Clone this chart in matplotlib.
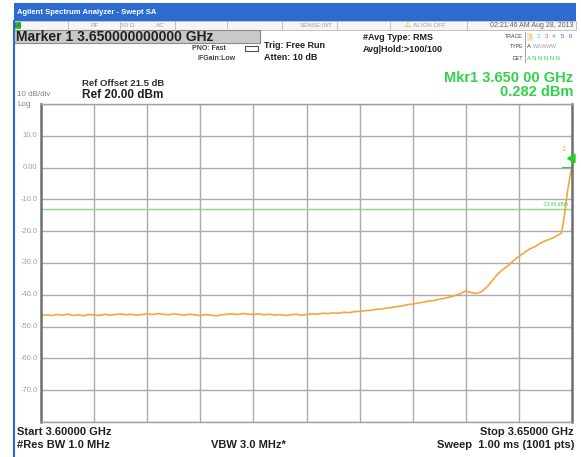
import numpy as np
import matplotlib.pyplot as plt
from matplotlib.patches import Rectangle
from matplotlib.lines import Line2D

plt.rcParams['font.family'] = ['Liberation Sans', 'DejaVu Sans']

W, H = 581, 457

# --- sweep settings / readouts ---
start_ghz = 3.600
stop_ghz = 3.650
ref_dbm = 20.0
db_per_div = 10
n_div = 10
display_line_dbm = -13.0
mkr_ghz = 3.650
mkr_dbm = 0.282

ytick_vals = [10, 0, -10, -20, -30, -40, -50, -60, -70]
ytick_labels = ['10.0', '0.00', '-10.0', '-20.0', '-30.0', '-40.0',
                '-50.0', '-60.0', '-70.0']

# trace: offset from start (MHz) and level (dBm)
trace_mhz = list(np.arange(0, 49.01, 0.5)) + [49.2, 49.4, 49.6, 49.8, 50.0]
trace_dbm = [
    -46.6, -46.3, -46.5, -46.2, -46.4, -46.1, -46.5, -46.3, -46.6, -46.2,
    -46.3, -46.5, -46.1, -46.4, -46.2, -46.0, -46.3, -46.1, -46.4, -46.2,
    -46.0, -46.2, -45.9, -46.1, -46.3, -46.0, -46.2, -46.4, -46.1, -46.3,
    -46.5, -46.2, -46.4, -46.6, -46.3, -46.1, -46.0, -46.2, -45.9, -46.1,
    -46.2, -46.0, -46.3, -46.1, -46.4, -46.2, -46.5, -46.3, -46.1, -46.4,
    -46.2, -46.0, -46.1, -45.8, -45.9, -45.7, -45.8, -45.5, -45.6, -45.3,
    -45.2, -45.0, -44.9, -44.6, -44.5, -44.2, -44.0, -43.7, -43.5, -43.1,
    -42.9, -42.6, -42.3, -42.0, -41.8, -41.4, -41.1, -40.7, -40.2, -39.6,
    -38.8, -39.3, -39.6, -39.0, -37.5, -35.5, -33.5, -32.0, -30.8, -29.3,
    -27.9, -26.8, -25.6, -24.9, -23.8, -23.0, -22.4, -21.6, -20.6,
    -17.0, -12.0, -7.0, -3.0, 0.282,
]

trace_color = '#F2A93B'
green = '#2FD24A'
blue = '#2E6BD0'


def fx(x):
    return x / W


def fy(y):
    return 1 - y / H


def txt(x, y, s, **kw):
    kw.setdefault('va', 'center')
    fig.text(fx(x), fy(y), s, **kw)


def box(x0, y0, x1, y1, **kw):
    fig.add_artist(Rectangle((fx(x0), fy(y1)), fx(x1) - fx(x0), (y1 - y0) / H,
                             transform=fig.transFigure, **kw))


fig = plt.figure(figsize=(W / 100, H / 100), dpi=100)
fig.patch.set_facecolor('white')

# title bar and status row
box(14, 3, 576, 21, facecolor=blue, edgecolor='none')
txt(17, 12, 'Agilent Spectrum Analyzer - Swept SA', color='white',
    fontsize=5.5, fontweight='bold')
box(14, 21, 576, 30, facecolor='#F6F6F6', edgecolor='#B8B8B8', lw=0.6)
for xd in [68, 120, 175, 227, 282, 337, 390, 467]:
    fig.add_artist(Line2D([fx(xd), fx(xd)], [fy(21), fy(30)],
                          color='#B8B8B8', lw=0.6))
box(14, 22, 21, 29, facecolor='#39C43A', edgecolor='none')
txt(14.5, 25.5, 'LXI', fontsize=3.5, color='#204020')
txt(95, 25.5, 'RF', fontsize=4.5, color='#A0A0A0', ha='center')
txt(128, 25.5, '50 Ω', fontsize=4.5, color='#A0A0A0', ha='center')
txt(160, 25.5, 'AC', fontsize=4.5, color='#A0A0A0', ha='center')
txt(316, 25.5, 'SENSE:INT', fontsize=4.5, color='#A0A0A0', ha='center')
txt(407, 25, '⚠', fontsize=6, color='#D8B400', ha='center')
txt(413, 25.5, 'ALIGN OFF', fontsize=4.5, color='#A0A0A0')
txt(574, 25.5, '02:21:46 AM Aug 28, 2013', fontsize=5, color='#606060',
    ha='right')

# left blue frame line
fig.add_artist(Line2D([fx(14), fx(14)], [fy(21), fy(457)], color=blue, lw=1.5))

# marker box
box(14, 30, 260, 43, facecolor='#C9C9C9', edgecolor='#8A8A8A', lw=0.8)
txt(16, 37, 'Marker 1 3.650000000000 GHz', fontsize=10, fontweight='bold',
    color='#202020')

txt(226, 49, 'PNO: Fast', fontsize=5, fontweight='bold', color='#404040',
    ha='right')
txt(236, 59, 'IFGain:Low', fontsize=5, fontweight='bold', color='#404040',
    ha='right')
box(245, 46, 258, 51, facecolor='white', edgecolor='#505050', lw=0.8)
txt(264, 46, 'Trig: Free Run', fontsize=6.5, fontweight='bold',
    color='#202020')
txt(264, 58, 'Atten: 10 dB', fontsize=6.5, fontweight='bold', color='#202020')
txt(363, 38, '#Avg Type: RMS', fontsize=6.5, fontweight='bold',
    color='#202020')
txt(363, 49, 'Avg|Hold:>100/100', fontsize=6.5, fontweight='bold',
    color='#202020')

# trace / type / det block
txt(523, 37, 'TRACE', fontsize=3.8, color='#404040', ha='right')
txt(523, 47, 'TYPE', fontsize=3.8, color='#404040', ha='right')
txt(523, 58, 'DET', fontsize=3.8, color='#404040', ha='right')
fig.add_artist(Line2D([fx(525), fx(525)], [fy(32), fy(62)], color='#909090',
                      lw=0.6))
for i, c in enumerate(['#F2C060', '#40C8E0', '#E040C0', '#40C040',
                       '#4060E0', '#8040E0']):
    box(527 + i * 8, 33, 533 + i * 8, 41,
        facecolor='#F6E7B8' if i == 0 else 'none', edgecolor='none')
    txt(530 + i * 8, 37, str(i + 1), fontsize=4.2, color=c, ha='center')
txt(527, 47, 'A', fontsize=4.2, color='#404040')
txt(533, 47, 'WWWWW', fontsize=3.6, color='#A0A0A0')
txt(527, 58, 'A N N N N N', fontsize=4.2, color=green)

# reference / marker readouts
txt(17, 95, '10 dB/div', fontsize=5.8, color='#808080')
txt(17, 104, 'Log', fontsize=5.8, color='#808080')
txt(82, 84, 'Ref Offset 21.5 dB', fontsize=6.8, fontweight='bold',
    color='#303030')
txt(82, 95, 'Ref 20.00 dBm', fontsize=8.5, fontweight='bold',
    color='#202020')
txt(573, 78, 'Mkr1 3.650 00 GHz', fontsize=10.5, fontweight='bold',
    color=green, ha='right')
txt(573, 92, '0.282 dBm', fontsize=10.5, fontweight='bold', color=green,
    ha='right')

# graticule
ax_l, ax_r, ax_t, ax_b = 41, 572, 104, 422
ax = fig.add_axes([fx(ax_l), fy(ax_b), (ax_r - ax_l) / W, (ax_b - ax_t) / H])
bottom_dbm = ref_dbm - n_div * db_per_div
ax.set_xlim(start_ghz, stop_ghz)
ax.set_ylim(bottom_dbm, ref_dbm)
ax.set_xticks(np.linspace(start_ghz, stop_ghz, n_div + 1))
ax.set_yticks(np.linspace(bottom_dbm, ref_dbm, n_div + 1))
ax.grid(True, color='#ABABAB', lw=1.0)
ax.tick_params(length=0, labelbottom=False, labelleft=False)
for side in ['top', 'bottom']:
    ax.spines[side].set_color('#A0A0A0')
    ax.spines[side].set_linewidth(1.0)
for side in ['left', 'right']:
    ax.spines[side].set_color('#707070')
    ax.spines[side].set_linewidth(1.8)

for v, lab in zip(ytick_vals, ytick_labels):
    ax.annotate(lab, xy=(0, v), xycoords=('axes fraction', 'data'),
                xytext=(-2.5, 0), textcoords='offset points', ha='right',
                va='center', fontsize=5.5, color='#A0A0A0')

ax.axhline(display_line_dbm, color='#7DE07D', lw=1.0)
ax.annotate('-13.00 dBm', xy=(1, display_line_dbm),
            xycoords=('axes fraction', 'data'), xytext=(-3, 1.5),
            textcoords='offset points', ha='right', va='bottom',
            fontsize=3.6, color=green)

trace_ghz = [start_ghz + m / 1000 for m in trace_mhz]
ax.plot(trace_ghz, trace_dbm, color=trace_color, lw=1.2)

# marker 1
ax.plot([stop_ghz - 0.0009, stop_ghz], [mkr_dbm, mkr_dbm], color=green,
        lw=0.8)
ax.plot(mkr_ghz, mkr_dbm + 2.7, marker=(3, 0, 90), markersize=7,
        color='#22D022', clip_on=False, zorder=5)
ax.text(stop_ghz - 0.0008, mkr_dbm + 5.5, '1', color=trace_color,
        fontsize=5.5, ha='center', va='center')

# bottom annotations
txt(17, 432, 'Start 3.60000 GHz', fontsize=8, fontweight='bold',
    color='#202020')
txt(17, 445, '#Res BW 1.0 MHz', fontsize=8, fontweight='bold',
    color='#202020')
txt(248, 445, 'VBW 3.0 MHz*', fontsize=8, fontweight='bold',
    color='#202020', ha='center')
txt(574, 432, 'Stop 3.65000 GHz', fontsize=8, fontweight='bold',
    color='#202020', ha='right')
txt(574, 445, 'Sweep  1.00 ms (1001 pts)', fontsize=8, fontweight='bold',
    color='#202020', ha='right')

fig.savefig('out.png', dpi=100)
